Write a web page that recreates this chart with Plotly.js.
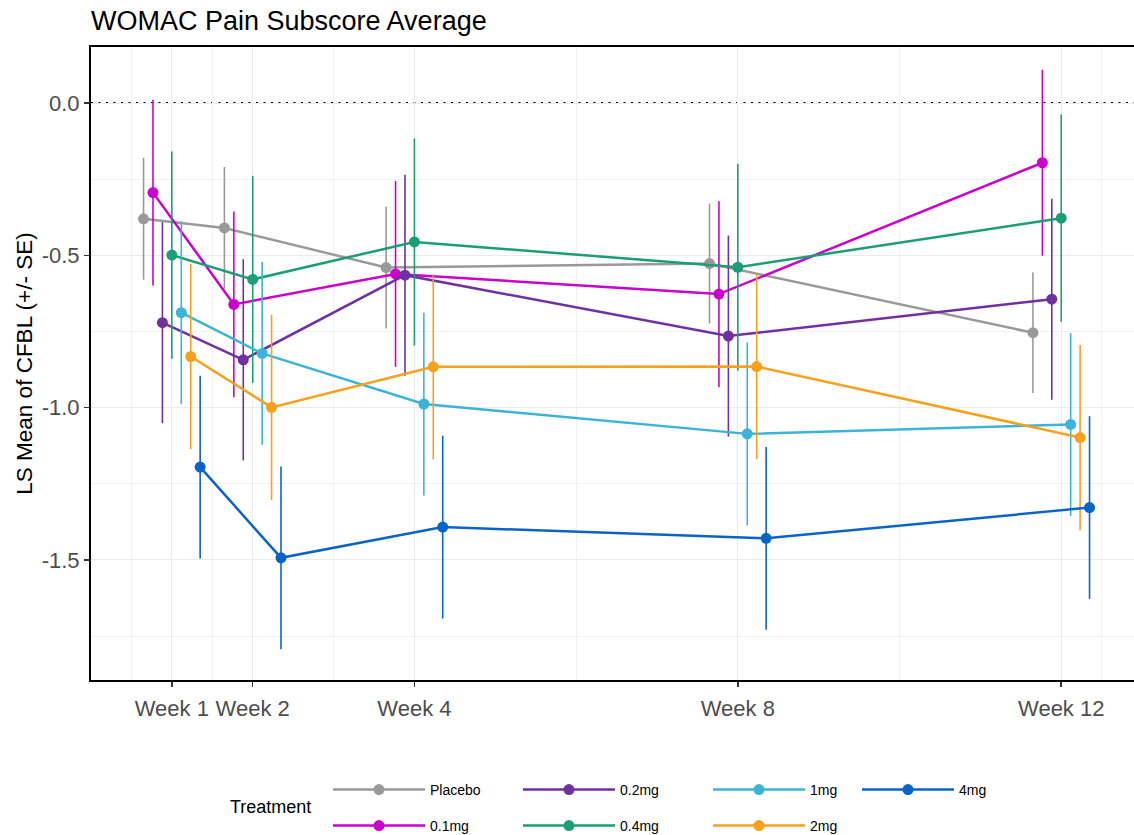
<!DOCTYPE html>
<html>
<head>
<meta charset="utf-8">
<script src="https://cdn.plot.ly/plotly-3.0.1.min.js"></script>
<style>html,body{margin:0;padding:0;background:#fff;}#chart{width:1134px;height:835px;}</style>
</head>
<body>
<div id="chart"></div>
<script>
// ---- data ----
const weeks = [1, 2, 4, 8, 12];
const weekLabels = ['Week 1', 'Week 2', 'Week 4', 'Week 8', 'Week 12'];
const treatments = ['Placebo', '0.1mg', '0.2mg', '0.4mg', '1mg', '2mg', '4mg'];

const placeboMean = [-0.38, -0.41, -0.54, -0.527, -0.754];
const placeboSE   = [0.20, 0.20, 0.20, 0.197, 0.198];
const mg01Mean = [-0.294, -0.661, -0.561, -0.627, -0.196];
const mg01SE   = [0.305, 0.305, 0.305, 0.305, 0.305];
const mg02Mean = [-0.721, -0.843, -0.565, -0.765, -0.644];
const mg02SE   = [0.33, 0.33, 0.33, 0.33, 0.33];
const mg04Mean = [-0.499, -0.579, -0.456, -0.539, -0.378];
const mg04SE   = [0.34, 0.34, 0.34, 0.34, 0.34];
const mg1Mean  = [-0.688, -0.822, -0.988, -1.086, -1.055];
const mg1SE    = [0.30, 0.30, 0.30, 0.30, 0.30];
const mg2Mean  = [-0.832, -0.999, -0.866, -0.865, -1.098];
const mg2SE    = [0.304, 0.304, 0.304, 0.304, 0.304];
const mg4Mean  = [-1.195, -1.493, -1.392, -1.429, -1.328];
const mg4SE    = [0.30, 0.30, 0.30, 0.30, 0.30];

const means = [placeboMean, mg01Mean, mg02Mean, mg04Mean, mg1Mean, mg2Mean, mg4Mean];
const ses   = [placeboSE, mg01SE, mg02SE, mg04SE, mg1SE, mg2SE, mg4SE];
const colors = ['#999999', '#CC00CC', '#7030A0', '#1B9E77', '#3CB4D8', '#F5A11E', '#0A64C8'];
// legend blocks (ggplot fills the two legend rows column-wise)
const legendGroup = ['legend', 'legend2', 'legend', 'legend2', 'legend', 'legend2', 'legend3'];

const dodgeWidth = 0.7;
const nGroups = treatments.length;

const traces = treatments.map((name, i) => {
  const off = (i - (nGroups - 1) / 2) * dodgeWidth / (nGroups - 1);
  return {
    type: 'scatter',
    mode: 'lines+markers',
    name: name,
    legend: legendGroup[i],
    x: weeks.map(w => w + off),
    y: means[i],
    line: {color: colors[i], width: 2.5},
    marker: {color: colors[i], size: 11},
    error_y: {type: 'data', array: ses[i], visible: true, color: colors[i], thickness: 1.6, width: 0},
    hoverinfo: 'x+y+name'
  };
});

const font = 'Liberation Sans, Arial, sans-serif';
const L = 91, T = 47, B = 155, R = 0;
const plotH = 835 - T - B;
const py = (pix) => (835 - B - pix) / plotH;       // pixel row -> paper y
const px = (pix) => (pix - L) / (1134 - L - R);     // pixel col -> paper x

const legendBase = {orientation: 'h', xanchor: 'left', yanchor: 'middle',
  font: {family: font, size: 14, color: '#000000'}, entrywidth: 83, entrywidthmode: 'pixels',
  itemwidth: 92, bgcolor: 'rgba(0,0,0,0)', traceorder: 'normal'};

const layout = {
  width: 1134, height: 835,
  margin: {l: L, r: R, t: T, b: B, autoexpand: false},
  paper_bgcolor: '#ffffff', plot_bgcolor: '#ffffff',
  font: {family: font, color: '#000000'},
  title: {text: 'WOMAC Pain Subscore Average', font: {family: font, size: 27, color: '#000000'},
          x: px(91), xref: 'paper', xanchor: 'left', y: 1 - 21 / 835, yref: 'container', yanchor: 'middle'},
  xaxis: {
    range: [0, 12.9], tickmode: 'array', tickvals: weeks, ticktext: weekLabels,
    tickfont: {family: font, size: 22, color: '#4D4D4D'},
    ticks: 'outside', ticklen: 5, tickwidth: 1.5, tickcolor: '#333333', ticklabelstandoff: 3,
    showline: true, linecolor: '#000000', linewidth: 2, mirror: true,
    showgrid: true, gridcolor: '#EBEBEB', gridwidth: 1, zeroline: false,
    minor: {tickmode: 'array', tickvals: [0.5, 1.5, 3, 6, 10, 12.5], showgrid: true, gridcolor: '#F2F2F2', gridwidth: 1, ticks: ''}
  },
  yaxis: {
    range: [-1.894, 0.184], tickmode: 'array', tickvals: [0, -0.5, -1, -1.5], ticktext: ['0.0', '-0.5', '-1.0', '-1.5'],
    tickfont: {family: font, size: 22, color: '#4D4D4D'},
    ticks: 'outside', ticklen: 5, tickwidth: 1.5, tickcolor: '#333333',
    showline: true, linecolor: '#000000', linewidth: 2, mirror: false,
    showgrid: true, gridcolor: '#EBEBEB', gridwidth: 1, zeroline: false,
    minor: {tickmode: 'array', tickvals: [-0.25, -0.75, -1.25, -1.75], showgrid: true, gridcolor: '#F2F2F2', gridwidth: 1, ticks: ''},
    title: {text: 'LS Mean of CFBL (+/- SE)', font: {family: font, size: 22.5, color: '#000000'}, standoff: 3}
  },
  shapes: [{type: 'line', xref: 'paper', x0: 0, x1: 1, yref: 'y', y0: 0, y1: 0,
            line: {color: '#000000', width: 2, dash: '2px,5.5px'}, layer: 'between'}],
  showlegend: true,
  legend:  Object.assign({}, legendBase, {x: px(328), y: py(790)}),
  legend2: Object.assign({}, legendBase, {x: px(328), y: py(826)}),
  legend3: Object.assign({}, legendBase, {x: px(857), y: py(790)}),
  annotations: [{text: 'Treatment', xref: 'paper', yref: 'paper', x: px(228), y: py(807),
                 xanchor: 'left', yanchor: 'middle', showarrow: false,
                 font: {family: font, size: 18, color: '#000000'}}]
};

Plotly.newPlot('chart', traces, layout, {displayModeBar: false, staticPlot: true});
</script>
</body>
</html>
